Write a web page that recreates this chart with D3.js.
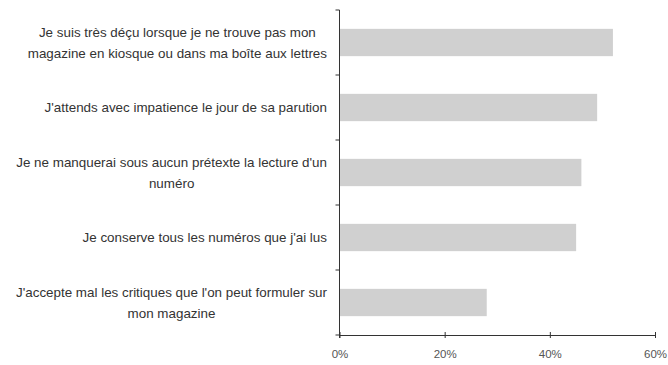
<!DOCTYPE html>
<html><head><meta charset="utf-8">
<script src="https://cdn.jsdelivr.net/npm/d3@7"></script>
<style>
html,body{margin:0;padding:0;background:#fff;}
svg{display:block;}
text{font-family:"Liberation Sans", Arial, sans-serif;}
</style></head>
<body>
<svg id="chart" width="668" height="365"></svg>
<script>
const categories = [
  ["Je suis très déçu lorsque je ne trouve pas mon", "magazine en kiosque ou dans ma boîte aux lettres"],
  ["J'attends avec impatience le jour de sa parution"],
  ["Je ne manquerai sous aucun prétexte la lecture d'un", "numéro"],
  ["Je conserve tous les numéros que j'ai lus"],
  ["J'accepte mal les critiques que l'on peut formuler sur", "mon magazine"]
];
const values = [0.52, 0.49, 0.46, 0.45, 0.28];
const xTicks = [0, 0.2, 0.4, 0.6];

(function () {
const svg = d3.select("#chart");
const pLeft = 339.5, pRight = 655, pTop = 10, pBottom = 335;
const ids = categories.map((c, i) => i);
const x = d3.scaleLinear().domain([0, 0.6]).range([pLeft, pRight]);
const y = d3.scaleBand().domain(ids).range([pTop, pBottom]).paddingInner(0.58).paddingOuter(0.29);

// bars
svg.append("g").selectAll("rect").data(values).join("rect")
  .attr("x", x(0))
  .attr("y", (d, i) => y(i))
  .attr("width", d => x(d) - x(0))
  .attr("height", y.bandwidth())
  .attr("fill", "#d0d0d0");

// x axis
const xAxis = d3.axisBottom(x).tickValues(xTicks).tickFormat(d3.format(".0%")).tickSize(3).tickSizeOuter(0);
const gx = svg.append("g").attr("transform", `translate(0,${pBottom})`).call(xAxis);
gx.select(".domain").attr("stroke", "#333");
gx.selectAll(".tick line").attr("stroke", "#333").attr("y1", -3);
gx.selectAll(".tick text").attr("font-size", 11.5).attr("fill", "#555").attr("dy", "1.45em")
  .style("font-family", "Liberation Sans, Arial, sans-serif");

// y axis with ticks at band boundaries
const bounds = d3.range(categories.length + 1).map(i => pTop + i * y.step());
const gy = svg.append("g");
gy.append("line").attr("x1", pLeft).attr("x2", pLeft).attr("y1", pTop).attr("y2", pBottom + 3).attr("stroke", "#333");
gy.selectAll("line.tk").data(bounds).join("line").attr("class", "tk")
  .attr("x1", pLeft - 4).attr("x2", pLeft).attr("y1", d => d).attr("y2", d => d).attr("stroke", "#333");

// category labels: block right-aligned, lines centered within block
const lineH = 21;
const labelRight = 327;
const lg = svg.append("g");
categories.forEach((lines, i) => {
  const g = lg.append("g");
  const cy = y(i) + y.bandwidth() / 2;
  const ts = lines.map((ln, j) => g.append("text")
    .attr("font-size", 13.4)
    .attr("fill", "#333")
    .attr("text-anchor", "middle")
    .attr("dy", "0.35em")
    .attr("y", cy + (j - (lines.length - 1) / 2) * lineH)
    .text(ln));
  const w = d3.max(ts, t => t.node().getComputedTextLength());
  ts.forEach(t => t.attr("x", labelRight - w / 2));
});
})();
</script>
</body></html>
